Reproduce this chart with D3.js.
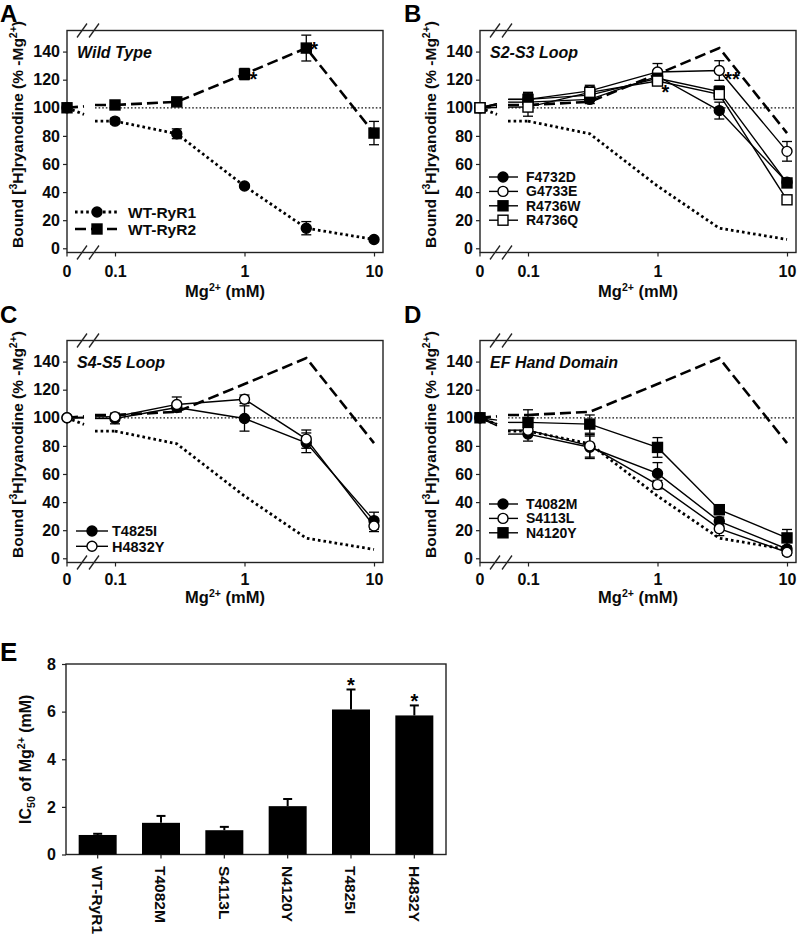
<!DOCTYPE html>
<html><head><meta charset="utf-8">
<script src="https://cdn.jsdelivr.net/npm/d3@7"></script>
<style>body{margin:0;background:#fff}svg{display:block}</style>
</head><body>
<script>
// ---------- DATA ----------
const mgConc = [0, 0.1, 0.3, 1, 3, 10];
const xTickVals = [0.1, 1, 10];
const xTickLabels = ["0.1", "1", "10"];
const yTicks = [0, 20, 40, 60, 80, 100, 120, 140];

const wtRyR1 = [100, 90.5, 81.5, 44.3, 14.3, 6.3];
const wtRyR1Err = [0, 2, 3.5, 1.2, 4.7, 1.2];
const wtRyR2 = [100, 102, 104.2, 124, 142.5, 82];
const wtRyR2Err = [0, 1.5, 1.5, 4, 9.2, 8.3];

const F4732D = [100, 104, 106, 122.5, 98, 47];
const F4732DErr = [0, 3, 3, 4, 6, 2];
const G4733E = [100, 106, 112, 125.5, 126.5, 69];
const G4733EErr = [0, 5, 4, 6, 7, 7];
const R4736W = [100, 106, 109, 121, 111.5, 46.5];
const R4736WErr = [0, 4, 4, 4, 4, 3];
const R4736Q = [100, 100.5, 111, 119, 109.5, 34.5];
const R4736QErr = [0, 6.5, 4, 3, 3, 2];

const T4825I = [100, 99.5, 107.3, 99.5, 82.2, 26.8];
const T4825IErr = [0, 3.8, 3, 9, 7, 6];
const H4832Y = [100, 100.7, 109.5, 113.2, 84.8, 23];
const H4832YErr = [0, 2, 5.3, 3, 6.5, 4];

const T4082M = [100, 88.4, 79, 60.4, 26.3, 6.6];
const T4082MErr = [0, 5, 8, 7.7, 3, 2];
const S4113L = [100, 91.2, 80, 52.4, 21.1, 4.3];
const S4113LErr = [0, 3, 8, 3, 5, 2];
const N4120Y = [100, 96.7, 95.5, 78.9, 34.6, 14.5];
const N4120YErr = [0, 9, 6.5, 7, 3.5, 6];

const icCategories = ["WT-RyR1", "T4082M", "S4113L", "N4120Y", "T4825I", "H4832Y"];
const icValues = [0.82, 1.33, 1.02, 2.03, 6.09, 5.84];
const icErrors = [0.05, 0.29, 0.14, 0.3, 0.84, 0.42];
const icStars = ["", "", "", "", "*", "*"];
const icTicks = [0, 2, 4, 6, 8];

// ---------- DRAW ----------
const FONT = "'Liberation Sans', Arial, Helvetica, sans-serif";
const W = 798, H = 934;
const svg = d3.select("body").append("svg").attr("width", W).attr("height", H)
  .style("font-family", FONT).style("font-weight", "bold");

const FRAME = "#222";
const dotted = "2.6 3";
const dashed = "11 5";
const TXT = "#0a0a0a";

function supText(sel, parts) {
  let prev = "n";
  parts.forEach(([t, type]) => {
    const ts = sel.append("tspan").text(t);
    let dy = 0;
    if (prev === "n" && type === "sup") dy = -6;
    if (prev === "sup" && type === "n") dy = 6;
    if (prev === "n" && type === "sub") dy = 4;
    if (prev === "sub" && type === "n") dy = -4;
    if (dy) ts.attr("dy", dy);
    if (type !== "n") ts.attr("font-size", "10.5px");
    prev = type;
  });
}

function linePanel(cfg) {
  const L = cfg.L, top = cfg.top, bottom = cfg.bottom, R = L + 316;
  const g = svg.append("g");
  const y = d3.scaleLinear().domain([-3, 155]).range([bottom, top]);
  const x = d3.scaleLog().domain([0.1, 10]).range([L + 48, L + 307]);
  const xp = v => v === 0 ? L : x(v);
  const bL = L + 17, bR = L + 28;

  const yAx = g.append("g").attr("transform", `translate(${L},0)`)
    .call(d3.axisLeft(y).tickValues(yTicks).tickSize(4).tickPadding(3).tickFormat(d3.format("d")));
  yAx.select(".domain").remove();
  yAx.selectAll("line").attr("stroke", FRAME).attr("stroke-width", 1.2);
  yAx.selectAll("text").attr("font-size", "16px").attr("fill", TXT).attr("font-family", FONT);

  const xAx = g.append("g").attr("transform", `translate(0,${bottom})`)
    .call(d3.axisBottom(x).tickValues(xTickVals).tickSize(4).tickPadding(0).tickFormat((d, i) => xTickLabels[i]));
  xAx.select(".domain").remove();
  xAx.selectAll("line").attr("stroke", FRAME).attr("stroke-width", 1.2);
  xAx.selectAll("text").attr("font-size", "16px").attr("fill", TXT).attr("font-family", FONT)
     .attr("y", cfg.tickBase - bottom).attr("dy", 0);
  g.append("line").attr("x1", L).attr("x2", L).attr("y1", bottom).attr("y2", bottom + 4)
    .attr("stroke", FRAME).attr("stroke-width", 1.2);
  g.append("text").attr("x", L).attr("y", cfg.tickBase).attr("text-anchor", "middle")
    .attr("font-size", "16px").attr("fill", TXT).text("0");

  g.append("rect").attr("x", L).attr("y", top).attr("width", R - L).attr("height", bottom - top)
    .attr("fill", "none").attr("stroke", FRAME).attr("stroke-width", 1.4);

  [bL - 2, bR - 1].forEach(cx => {
    [top, bottom].forEach(cy => {
      g.append("line").attr("x1", cx - 5).attr("y1", cy + 7).attr("x2", cx + 5).attr("y2", cy - 7)
        .attr("stroke", FRAME).attr("stroke-width", 1.3);
    });
  });

  g.append("line").attr("x1", bR).attr("x2", R).attr("y1", y(100)).attr("y2", y(100))
    .attr("stroke", "#111").attr("stroke-width", 1.2).attr("stroke-dasharray", "1.6 2");

  const lineGen = d3.line().x(d => xp(d[0])).y(d => y(d[1]));

  function drawSeriesLine(vals, style) {
    const stroke = (sel) => sel.attr("fill", "none").attr("stroke", "#000")
      .attr("stroke-width", style.width).attr("stroke-dasharray", style.dash || null);
    g.append("path").attr("d", d3.line()([[L, y(vals[0])], [bL, y(vals[0] + 0.5 * (vals[1] - vals[0]))]])).call(stroke);
    g.append("path").attr("d", d3.line()([[bR, y(vals[1])], [xp(mgConc[1]), y(vals[1])]])).call(stroke);
    const pts = mgConc.slice(1).map((c, i) => [c, vals[i + 1]]);
    g.append("path").attr("d", lineGen(pts)).call(stroke);
  }

  function drawMarker(gg, cx, cy, shape, open) {
    if (shape === "circle") {
      gg.append("circle").attr("cx", cx).attr("cy", cy).attr("r", 5)
        .attr("fill", open ? "#fff" : "#000").attr("stroke", "#000").attr("stroke-width", 1.4);
    } else {
      gg.append("rect").attr("x", cx - 5).attr("y", cy - 5).attr("width", 10).attr("height", 10)
        .attr("fill", open ? "#fff" : "#000").attr("stroke", "#000").attr("stroke-width", 1.4);
    }
  }

  if (cfg.refs) {
    drawSeriesLine(wtRyR2, { width: 2.6, dash: dashed });
    drawSeriesLine(wtRyR1, { width: 2.8, dash: dotted });
  }

  cfg.series.forEach(s => drawSeriesLine(s.vals, { width: s.width || 1.4, dash: s.dash }));
  cfg.series.forEach(s => {
    mgConc.forEach((c, i) => {
      const e = s.errs[i];
      if (e > 0) {
        const cx = xp(c);
        g.append("line").attr("x1", cx).attr("x2", cx).attr("y1", y(s.vals[i] - e)).attr("y2", y(s.vals[i] + e))
          .attr("stroke", "#000").attr("stroke-width", 1.3);
        [s.vals[i] - e, s.vals[i] + e].forEach(v => g.append("line").attr("x1", cx - 5).attr("x2", cx + 5)
          .attr("y1", y(v)).attr("y2", y(v)).attr("stroke", "#000").attr("stroke-width", 1.3));
      }
    });
  });
  cfg.series.forEach(s => {
    mgConc.forEach((c, i) => drawMarker(g, xp(c), y(s.vals[i]), s.shape, s.open));
  });

  (cfg.stars || []).forEach(st => {
    g.append("text").attr("x", x(st.c) + st.dx).attr("y", y(st.v) + st.dy + 11)
      .attr("text-anchor", "start").attr("font-size", "20px").text(st.t);
  });

  const lg = cfg.legend;
  cfg.series.forEach((s, i) => {
    const ly = lg.y + i * lg.dy;
    g.append("line").attr("x1", L + lg.s1).attr("x2", L + lg.s2).attr("y1", ly).attr("y2", ly)
      .attr("stroke", "#000").attr("stroke-width", s.width || 1.4).attr("stroke-dasharray", s.dash || null);
    drawMarker(g, L + lg.m, ly, s.shape, s.open);
    g.append("text").attr("x", L + lg.t).attr("y", ly).attr("dy", "0.36em")
      .attr("font-size", lg.fs).attr("fill", TXT).text(s.name);
  });

  g.append("text").attr("x", L + 10).attr("y", top + 27).attr("font-size", "16px")
    .attr("font-style", "italic").attr("fill", TXT).text(cfg.title);

  const xt = g.append("text").attr("x", (L + R) / 2).attr("y", cfg.titleBase).attr("text-anchor", "middle")
    .attr("font-size", "16.5px").attr("fill", TXT);
  supText(xt, [["Mg", "n"], ["2+", "sup"], [" (mM)", "n"]]);
  const yt = g.append("text").attr("transform", `translate(${L - 44},${(top + bottom) / 2 - 7}) rotate(-90)`)
    .attr("text-anchor", "middle").attr("font-size", "15.5px").attr("fill", TXT);
  supText(yt, [["Bound [", "n"], ["3", "sup"], ["H]ryanodine (% -Mg", "n"], ["2+", "sup"], [")", "n"]]);

  svg.append("text").attr("x", cfg.lx).attr("y", cfg.ly).attr("font-size", "24px").attr("fill", "#000").text(cfg.letter);
}

const row1 = { top: 30.5, bottom: 252.5, tickBase: 277, titleBase: 297 };
const row2 = { top: 340.5, bottom: 562.5, tickBase: 585, titleBase: 603 };

linePanel(Object.assign({}, row1, {
  L: 67, letter: "A", lx: 0, ly: 22, title: "Wild Type", refs: false,
  series: [
    { name: "WT-RyR1", vals: wtRyR1, errs: wtRyR1Err, shape: "circle", open: false, dash: dotted, width: 2.8 },
    { name: "WT-RyR2", vals: wtRyR2, errs: wtRyR2Err, shape: "square", open: false, dash: dashed, width: 2.6 }
  ],
  stars: [{ c: 1, v: 124, dx: 5, dy: 1, t: "*" }, { c: 3, v: 142.5, dx: 4, dy: -3, t: "*" }],
  legend: { y: 212, dy: 17, s1: 8, s2: 50, m: 30, t: 61, fs: "15.5px" }
}));

linePanel(Object.assign({}, row1, {
  L: 480, letter: "B", lx: 404, ly: 22, title: "S2-S3 Loop", refs: true,
  series: [
    { name: "F4732D", vals: F4732D, errs: F4732DErr, shape: "circle", open: false },
    { name: "G4733E", vals: G4733E, errs: G4733EErr, shape: "circle", open: true },
    { name: "R4736W", vals: R4736W, errs: R4736WErr, shape: "square", open: false },
    { name: "R4736Q", vals: R4736Q, errs: R4736QErr, shape: "square", open: true }
  ],
  stars: [{ c: 1, v: 119, dx: 4, dy: 7, t: "*" }, { c: 3, v: 126.5, dx: 5, dy: 4, t: "**" }],
  legend: { y: 177, dy: 14.4, s1: 9, s2: 38, m: 23, t: 46, fs: "14px" }
}));

linePanel(Object.assign({}, row2, {
  L: 67, letter: "C", lx: 0, ly: 323, title: "S4-S5 Loop", refs: true,
  series: [
    { name: "T4825I", vals: T4825I, errs: T4825IErr, shape: "circle", open: false },
    { name: "H4832Y", vals: H4832Y, errs: H4832YErr, shape: "circle", open: true }
  ],
  legend: { y: 531, dy: 15.3, s1: 9, s2: 41, m: 25, t: 45, fs: "14.5px" }
}));

linePanel(Object.assign({}, row2, {
  L: 480, letter: "D", lx: 404, ly: 323, title: "EF Hand Domain", refs: true,
  series: [
    { name: "T4082M", vals: T4082M, errs: T4082MErr, shape: "circle", open: false },
    { name: "S4113L", vals: S4113L, errs: S4113LErr, shape: "circle", open: true },
    { name: "N4120Y", vals: N4120Y, errs: N4120YErr, shape: "square", open: false }
  ],
  legend: { y: 504, dy: 14.4, s1: 9, s2: 38, m: 23, t: 46, fs: "14px" }
}));

// ---------- Panel E ----------
(function () {
  const L = 66, R = 446, top = 664, bottom = 854.5;
  const g = svg.append("g");
  const x = d3.scaleBand().domain(icCategories).range([L, R]).paddingInner(0.4).paddingOuter(0.2);
  const y = d3.scaleLinear().domain([0, 8]).range([bottom, top]);

  const yAx = g.append("g").attr("transform", `translate(${L},0)`)
    .call(d3.axisLeft(y).tickValues(icTicks).tickSize(4).tickPadding(6).tickFormat(d3.format("d")));
  yAx.select(".domain").remove();
  yAx.selectAll("line").attr("stroke", FRAME).attr("stroke-width", 1.2);
  yAx.selectAll("text").attr("font-size", "16px").attr("fill", TXT).attr("font-family", FONT);

  const xAx = g.append("g").attr("transform", `translate(0,${bottom})`)
    .call(d3.axisBottom(x).tickSize(4).tickFormat(""));
  xAx.select(".domain").remove();
  xAx.selectAll("line").attr("stroke", FRAME).attr("stroke-width", 1.2);

  g.append("rect").attr("x", L).attr("y", top).attr("width", R - L).attr("height", bottom - top)
    .attr("fill", "none").attr("stroke", FRAME).attr("stroke-width", 1.4);

  icCategories.forEach((c, i) => {
    const cx = x(c) + x.bandwidth() / 2;
    const yt = y(icValues[i] + icErrors[i]);
    g.append("line").attr("x1", cx).attr("x2", cx).attr("y1", y(icValues[i])).attr("y2", yt)
      .attr("stroke", "#000").attr("stroke-width", 2);
    g.append("line").attr("x1", cx - 4.5).attr("x2", cx + 4.5).attr("y1", yt).attr("y2", yt)
      .attr("stroke", "#000").attr("stroke-width", 2);
    g.append("rect").attr("x", x(c)).attr("y", y(icValues[i])).attr("width", x.bandwidth())
      .attr("height", bottom - y(icValues[i])).attr("fill", "#000");
    if (icStars[i]) {
      g.append("text").attr("x", cx).attr("y", yt + 3).attr("text-anchor", "middle")
        .attr("font-size", "20px").text(icStars[i]);
    }
    g.append("text").attr("transform", `translate(${cx},866) rotate(90)`).attr("dy", "0.36em")
      .attr("font-size", "15.5px").attr("fill", TXT).text(c);
  });

  const yt = g.append("text").attr("transform", `translate(31,${(top + bottom) / 2}) rotate(-90)`)
    .attr("text-anchor", "middle").attr("font-size", "16px").attr("fill", TXT);
  supText(yt, [["IC", "n"], ["50", "sub"], [" of Mg", "n"], ["2+", "sup"], [" (mM)", "n"]]);

  svg.append("text").attr("x", 0).attr("y", 661).attr("font-size", "26px").attr("fill", "#000").text("E");
})();
</script>
</body></html>
